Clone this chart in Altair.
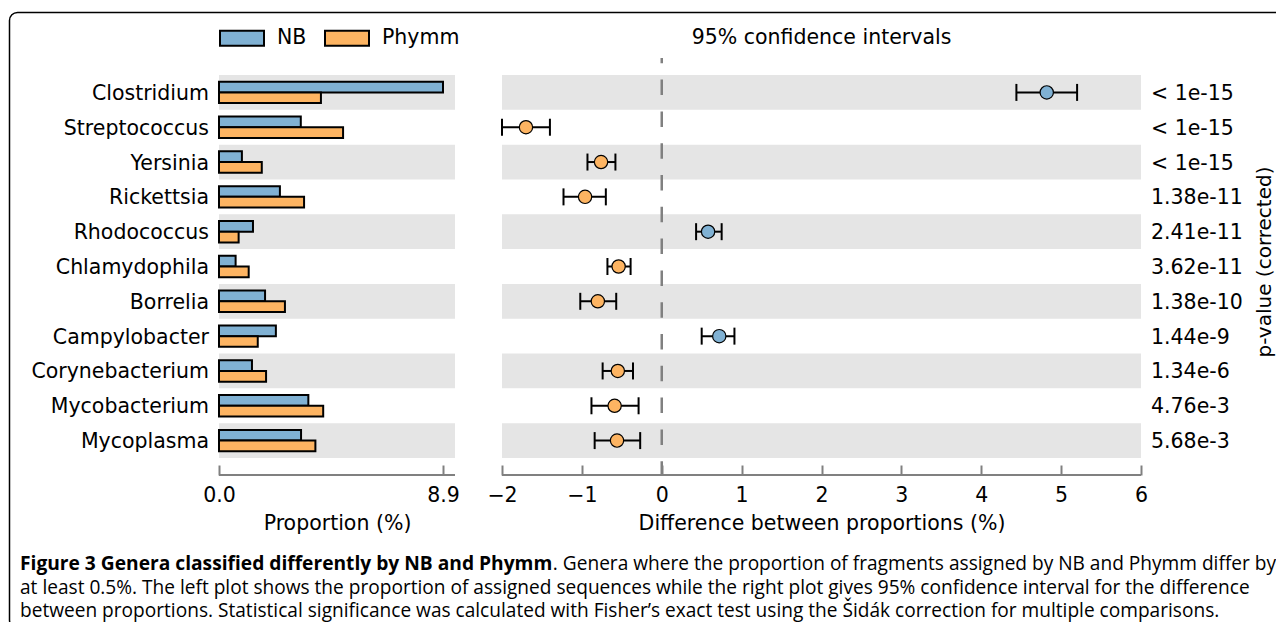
import altair as alt
import pandas as pd

# ---------------- data ----------------
genera = ["Clostridium", "Streptococcus", "Yersinia", "Rickettsia", "Rhodococcus",
          "Chlamydophila", "Borrelia", "Campylobacter", "Corynebacterium",
          "Mycobacterium", "Mycoplasma"]
nb_prop = [8.90, 3.25, 0.91, 2.42, 1.35, 0.66, 1.83, 2.26, 1.31, 3.55, 3.26]
phymm_prop = [4.05, 4.93, 1.70, 3.38, 0.78, 1.18, 2.62, 1.54, 1.87, 4.14, 3.83]
diff = [4.82, -1.70, -0.76, -0.96, 0.58, -0.54, -0.80, 0.72, -0.55, -0.59, -0.56]
ci_low = [4.44, -2.00, -0.93, -1.23, 0.43, -0.68, -1.02, 0.50, -0.74, -0.88, -0.84]
ci_high = [5.20, -1.40, -0.58, -0.70, 0.75, -0.39, -0.57, 0.91, -0.36, -0.29, -0.27]
pvalues = ["< 1e-15", "< 1e-15", "< 1e-15", "1.38e-11", "2.41e-11", "3.62e-11",
           "1.38e-10", "1.44e-9", "1.34e-6", "4.76e-3", "5.68e-3"]
groups = ["NB", "Phymm"]
left_ticks = [0, 8.9]
right_ticks = [-2, -1, 0, 1, 2, 3, 4, 5, 6]

caption_bold = "Figure 3 Genera classified differently by NB and Phymm"
caption_rest1 = ". Genera where the proportion of fragments assigned by NB and Phymm differ by"
caption_line2 = ("at least 0.5%. The left plot shows the proportion of assigned sequences while "
                 "the right plot gives 95% confidence interval for the difference")
caption_line3 = ("between proportions. Statistical significance was calculated with Fisher\u2019s "
                 "exact test using the \u0160id\u00e1k correction for multiple comparisons.")

# ---------------- layout / style ----------------
W, H = 1268, 614
FONT = "DejaVu Sans"
FS = 20.5
CAP_FONT = "Open Sans"
CAP_FS = 19.1
CAP_FS_B = 19.2
BLUE, ORANGE = "#80b1d3", "#fdb462"
BAND = "#e5e5e5"
AXC = "#808080"

L_DOM = [0, 9.377]
L_RANGE = [211, 447]
R_DOM = [-2, 6]
R_RANGE = [494, 1133]
Y_RANGE = [67, 450]
AXIS_Y = 467
TICK = 10

rows = pd.DataFrame({"genus": genera, "nb": nb_prop, "phymm": phymm_prop, "diff": diff,
                     "lo": ci_low, "hi": ci_high, "p": pvalues})
rows["shade"] = [i % 2 == 0 for i in range(len(genera))]
rows["group"] = ["NB" if d > 0 else "Phymm" for d in diff]

bars_df = pd.DataFrame({
    "genus": genera * 2,
    "group": ["NB"] * len(genera) + ["Phymm"] * len(genera),
    "value": nb_prop + phymm_prop,
})
one = pd.DataFrame({"k": [0]})

yscale = alt.Scale(domain=genera, range=Y_RANGE, paddingInner=0, paddingOuter=0)
y_enc = alt.Y("genus:N", scale=yscale, axis=None)
xL = alt.Scale(domain=L_DOM, range=L_RANGE, nice=False, zero=False)
xR = alt.Scale(domain=R_DOM, range=R_RANGE, nice=False, zero=False)
color_scale = alt.Scale(domain=groups, range=[BLUE, ORANGE])


def x_axis(values, fmt, title):
    return alt.Axis(orient="bottom", offset=AXIS_Y - TICK - H, values=values, format=fmt,
                    domain=False, grid=False, tickSize=TICK, tickWidth=2, tickColor=AXC,
                    labelFont=FONT, labelFontSize=FS, labelColor="black", labelPadding=10,
                    labelFlush=False, labelOverlap=False, labelBound=False,
                    title=title, titleFont=FONT, titleFontSize=FS, titleFontWeight="normal",
                    titleColor="black", titlePadding=8)


# ---------------- left panel: proportions ----------------
l_bands = alt.Chart(rows).transform_filter("datum.shade").mark_rect(color=BAND).encode(
    x=alt.XDatum(L_DOM[0], type="quantitative", scale=xL),
    x2=alt.X2Datum(L_DOM[1]),
    y=y_enc,
)
l_bars = alt.Chart(bars_df).mark_bar(stroke="black", strokeWidth=2, opacity=1).encode(
    x=alt.X("value:Q", scale=xL, axis=x_axis(left_ticks, ".1f", "Proportion (%)")),
    y=y_enc,
    yOffset=alt.YOffset("group:N", scale=alt.Scale(domain=groups, paddingInner=0, paddingOuter=0.625)),
    color=alt.Color("group:N", scale=color_scale, legend=alt.Legend(
        orient="none", legendX=211, legendY=7, direction="horizontal", title=None,
        symbolType="M-1,-0.34H1V0.34H-1Z", symbolSize=1936, symbolStrokeColor="black",
        symbolStrokeWidth=2, symbolOpacity=1, labelFont=FONT, labelFontSize=FS,
        labelColor="black", labelOffset=12, columnPadding=14, padding=0)),
)
l_domain = alt.Chart(one).mark_rule(color=AXC, strokeWidth=2).encode(
    x=alt.XDatum(L_DOM[0], type="quantitative", scale=xL),
    x2=alt.X2Datum(L_DOM[1]),
    y=alt.value(AXIS_Y),
)
l_labels = alt.Chart(rows).mark_text(align="right", baseline="middle", dx=-10, dy=1.5,
                                      font=FONT, fontSize=FS, color="black").encode(
    x=alt.XDatum(0, type="quantitative", scale=xL),
    y=y_enc,
    text="genus:N",
)
left = alt.layer(l_bands, l_bars, l_domain, l_labels)

# ---------------- right panel: confidence intervals ----------------
r_bands = alt.Chart(rows).transform_filter("datum.shade").mark_rect(color=BAND).encode(
    x=alt.XDatum(R_DOM[0], type="quantitative", scale=xR,
                 axis=x_axis(right_ticks, "d", "Difference between proportions (%)")),
    x2=alt.X2Datum(R_DOM[1]),
    y=y_enc,
)
r_zero = alt.Chart(one).mark_rule(color=AXC, strokeWidth=2.5, strokeDash=[15.5, 16.3],
                                  strokeDashOffset=10.2).encode(
    x=alt.XDatum(0, type="quantitative", scale=xR),
    y=alt.value(50),
    y2=alt.value(AXIS_Y),
)
r_domain = alt.Chart(one).mark_rule(color=AXC, strokeWidth=2).encode(
    x=alt.XDatum(R_DOM[0], type="quantitative", scale=xR),
    x2=alt.X2Datum(R_DOM[1]),
    y=alt.value(AXIS_Y),
)
r_err = alt.Chart(rows).mark_rule(color="black", strokeWidth=2).encode(
    x=alt.X("lo:Q", scale=xR), x2="hi:Q", y=y_enc,
)
r_caps = alt.Chart(rows).transform_fold(["lo", "hi"], as_=["end", "v"]).mark_tick(
    color="black", thickness=2, size=17, opacity=1).encode(
    x=alt.X("v:Q", scale=xR), y=y_enc,
)
r_pts = alt.Chart(rows).mark_circle(size=177, stroke="black", strokeWidth=1.2, opacity=1).encode(
    x=alt.X("diff:Q", scale=xR), y=y_enc,
    fill=alt.Fill("group:N", scale=color_scale, legend=None),
)
r_pvals = alt.Chart(rows).mark_text(align="left", baseline="middle", dx=10, dy=1.5,
                                     font=FONT, fontSize=FS, color="black").encode(
    x=alt.XDatum(R_DOM[1], type="quantitative", scale=xR), y=y_enc, text="p:N",
)
r_title = alt.Chart(one).mark_text(align="center", baseline="middle", font=FONT,
                                    fontSize=FS, color="black",
                                    text="95% confidence intervals").encode(
    x=alt.XDatum(2, type="quantitative", scale=xR), y=alt.value(30),
)
right = alt.layer(r_bands, r_zero, r_domain, r_err, r_caps, r_pts, r_pvals, r_title)

# ---------------- decorations: p-value title, caption, frame ----------------
p_title = alt.Chart(one).mark_text(angle=270, align="center", baseline="middle", font=FONT,
                                    fontSize=20, color="black",
                                    text="p-value (corrected)").encode(
    x=alt.value(1257), y=alt.value(254))
cap1b = alt.Chart(one).mark_text(align="left", baseline="middle", font=CAP_FONT,
                                  fontSize=CAP_FS_B, fontWeight="bold", color="black",
                                  text=caption_bold).encode(x=alt.value(12), y=alt.value(556))
cap1r = alt.Chart(one).mark_text(align="right", baseline="middle", font=CAP_FONT,
                                  fontSize=CAP_FS, color="black",
                                  text=caption_rest1).encode(x=alt.value(1268), y=alt.value(556))
cap2 = alt.Chart(one).mark_text(align="left", baseline="middle", font=CAP_FONT,
                                 fontSize=CAP_FS, color="black",
                                 text=caption_line2).encode(x=alt.value(12), y=alt.value(579.5))
cap3 = alt.Chart(one).mark_text(align="left", baseline="middle", font=CAP_FONT,
                                 fontSize=CAP_FS, color="black",
                                 text=caption_line3).encode(x=alt.value(12), y=alt.value(603))
frame = alt.Chart(one).mark_rect(fill="white", fillOpacity=0, stroke="black", strokeWidth=1.5,
                                  cornerRadius=8, clip=True).encode(
    x=alt.value(1.5), x2=alt.value(1400), y=alt.value(4.5), y2=alt.value(620))
deco = alt.layer(frame, p_title, cap1b, cap1r, cap2, cap3)

chart = alt.layer(left, right, deco).resolve_scale(x="independent").properties(
    width=W, height=H, padding=0, autosize=alt.AutoSizeParams(type="none"),
    background="white",
).configure_view(strokeWidth=0)

chart.save("out.html", embed_options={"renderer": "svg", "actions": False})
